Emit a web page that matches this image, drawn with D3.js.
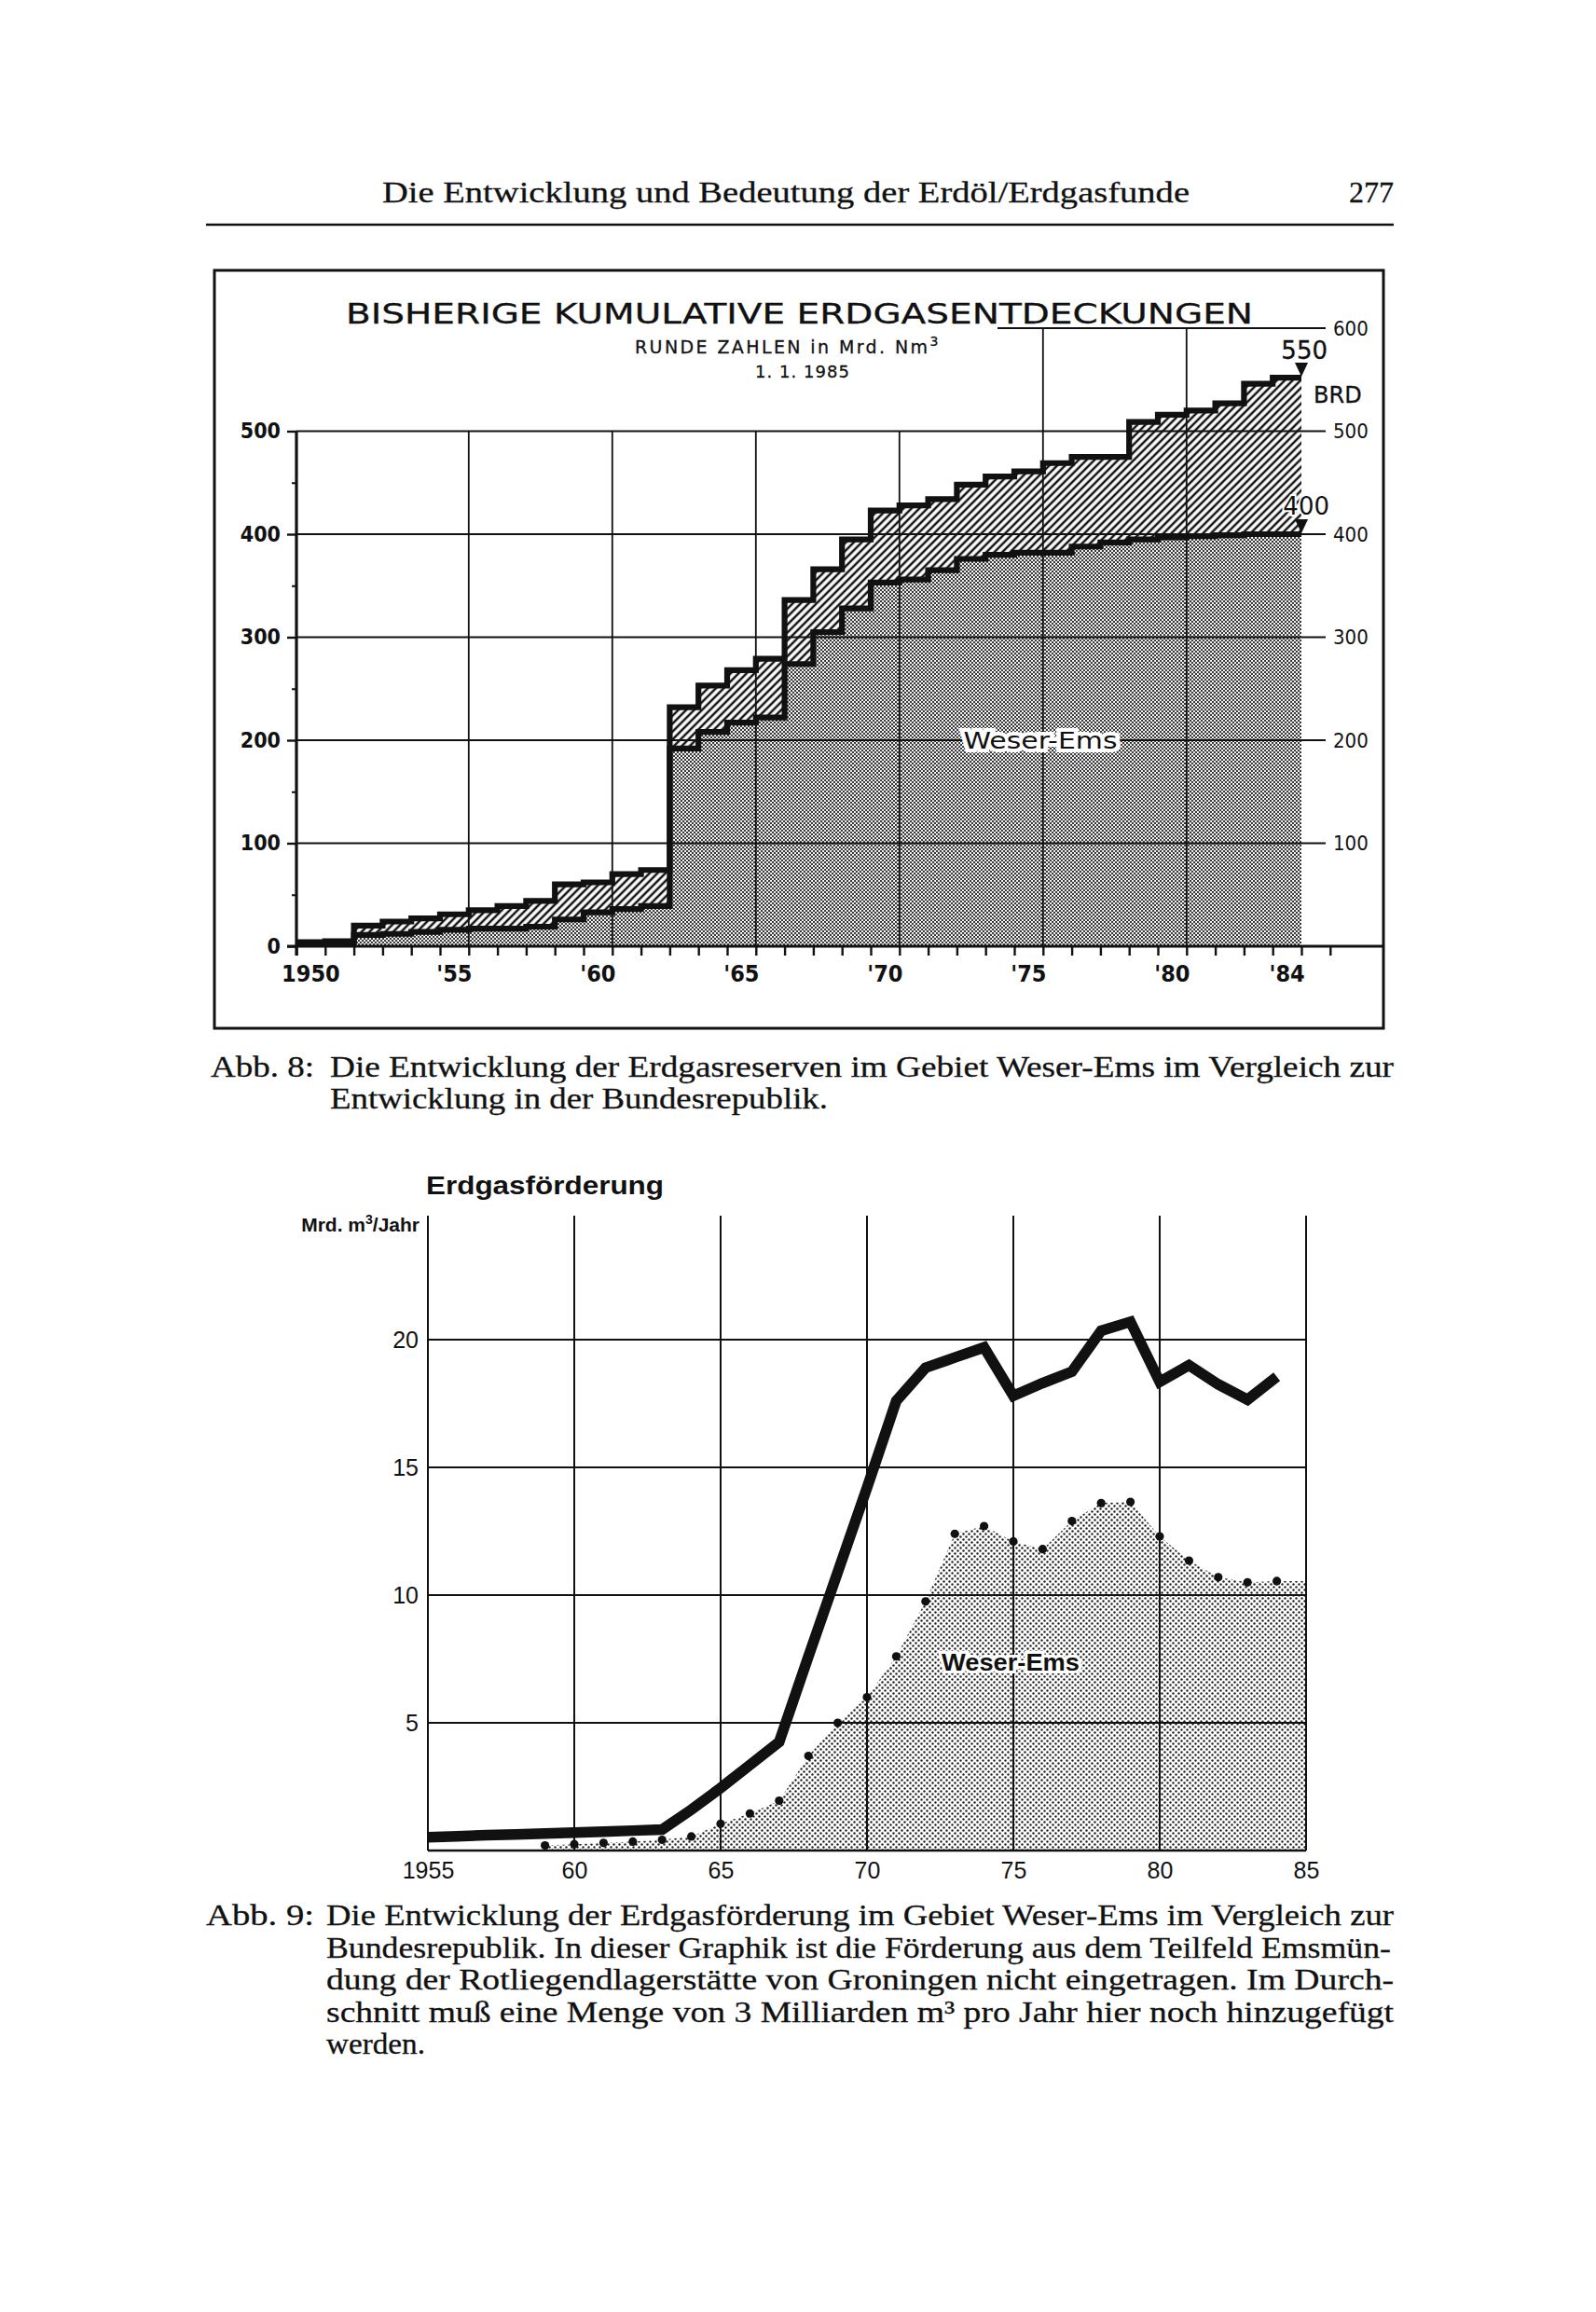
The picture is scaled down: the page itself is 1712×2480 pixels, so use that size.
<!DOCTYPE html>
<html>
<head>
<meta charset="utf-8">
<script src="https://cdn.jsdelivr.net/npm/d3@7"></script>
<style>
body { margin: 0; background: #fff; }
.print { stroke: #111; stroke-width: 0.3; }
</style>
</head>
<body>
<div id="page"></div>
<script>
// Abb. 8 - cumulative discoveries, Mrd. Nm3, one value per year 1950..1984
var years = d3.range(1950, 1985);
var brd = [4, 5, 20, 24, 27, 31, 35, 39, 44, 60, 62, 70, 74, 232, 253, 268, 279, 336, 366, 395,
           423, 428, 434, 448, 456, 461, 469, 475, 475, 509, 516, 520, 527, 546, 552];
var weserEms = [2, 3, 11, 12, 14, 16, 17, 17, 19, 26, 33, 36, 39, 192, 208, 217, 222, 274, 305, 328,
                353, 356, 365, 376, 380, 382, 382, 388, 392, 395, 397, 398, 399, 400, 400];
var topLabelYears = [1950, 1955, 1960, 1965, 1970, 1975, 1980, 1984];
var topLabels = ['1950', "'55", "'60", "'65", "'70", "'75", "'80", "'84"];

// Abb. 9 - production, Mrd. m3 per year
var prodYears = d3.range(1955, 1985);
var prodBRD = [0.52, 0.56, 0.6, 0.63, 0.67, 0.7, 0.74, 0.78, 0.82, 1.6, 2.45, 3.35, 4.25, 7.6, 10.9,
               14.2, 17.6, 18.9, 19.3, 19.7, 17.8, 18.3, 18.75, 20.35, 20.7, 18.35, 19.0, 18.25, 17.65, 18.55];
var weYears = d3.range(1959, 1985);
var prodWE = [0.2, 0.25, 0.3, 0.35, 0.42, 0.55, 1.05, 1.45, 1.95, 3.7, 5.0, 6.0, 7.6, 9.75, 12.4,
              12.7, 12.1, 11.8, 12.9, 13.6, 13.65, 12.3, 11.35, 10.7, 10.5, 10.55];
var botTicks = [1955, 1960, 1965, 1970, 1975, 1980, 1985];
var botLabels = ['1955', '60', '65', '70', '75', '80', '85'];

var SERIF = '"Liberation Serif", "DejaVu Serif", serif';
var SANS = '"Liberation Sans", Arial, sans-serif';
var NARROW = '"Liberation Sans Narrow", "DejaVu Sans Condensed", sans-serif';
var GEO = '"DejaVu Sans", sans-serif';
var ink = '#111';

var svg = d3.select('#page').append('svg')
  .attr('width', 1712).attr('height', 2480)
  .style('background', '#fff');

// patterns
var defs = svg.append('defs');
var pGray = defs.append('pattern').attr('id', 'grayDots')
  .attr('width', 4).attr('height', 4).attr('patternUnits', 'userSpaceOnUse');
pGray.append('rect').attr('width', 4).attr('height', 4).attr('fill', '#fff');
pGray.append('circle').attr('cx', 1).attr('cy', 1).attr('r', 1.2).attr('fill', '#333');
pGray.append('circle').attr('cx', 3).attr('cy', 3).attr('r', 1.2).attr('fill', '#333');

var pHatch = defs.append('pattern').attr('id', 'hatch')
  .attr('width', 6).attr('height', 6).attr('patternUnits', 'userSpaceOnUse')
  .attr('patternTransform', 'rotate(45)');
pHatch.append('rect').attr('width', 6).attr('height', 6).attr('fill', '#fff');
pHatch.append('line').attr('x1', 3).attr('y1', 0).attr('x2', 3).attr('y2', 6)
  .attr('stroke', ink).attr('stroke-width', 2.5);

var pFine = defs.append('pattern').attr('id', 'fineDots')
  .attr('width', 6).attr('height', 6).attr('patternUnits', 'userSpaceOnUse');
pFine.append('rect').attr('width', 6).attr('height', 6).attr('fill', '#fff');
pFine.append('circle').attr('cx', 1.5).attr('cy', 1.5).attr('r', 1.2).attr('fill', '#222');
pFine.append('circle').attr('cx', 4.5).attr('cy', 4.5).attr('r', 1.2).attr('fill', '#222');

// page header
svg.append('text').attr('class', 'print').attr('x', 410).attr('y', 217)
  .attr('font-family', SERIF).attr('font-size', 32).attr('fill', ink)
  .attr('textLength', 866).attr('lengthAdjust', 'spacingAndGlyphs')
  .text('Die Entwicklung und Bedeutung der Erdöl/Erdgasfunde');
svg.append('text').attr('class', 'print').attr('x', 1495).attr('y', 217).attr('text-anchor', 'end')
  .attr('font-family', SERIF).attr('font-size', 32).attr('fill', ink).text('277');
svg.append('line').attr('x1', 221).attr('x2', 1495).attr('y1', 241).attr('y2', 241)
  .attr('stroke', ink).attr('stroke-width', 2.5);

// ---------- Abb. 8 ----------
var x1 = d3.scaleLinear().domain([1950, 1985]).range([318, 1396]);
var y1 = d3.scaleLinear().domain([0, 600]).range([1015, 352]);

var chartA = svg.append('g');
chartA.append('rect').attr('x', 230).attr('y', 290).attr('width', 1254).attr('height', 813)
  .attr('fill', 'none').attr('stroke', ink).attr('stroke-width', 3);

var topData = years.map(function(y, i) { return { year: y, brd: brd[i], we: weserEms[i] }; });
var lastT = topData[topData.length - 1];
var steps = topData.concat([{ year: 1985, brd: lastT.brd, we: lastT.we }]);

var areaHatch = d3.area().curve(d3.curveStepAfter)
  .x(function(d) { return x1(d.year); })
  .y0(function(d) { return y1(d.we); })
  .y1(function(d) { return y1(d.brd); });
var areaWE = d3.area().curve(d3.curveStepAfter)
  .x(function(d) { return x1(d.year); })
  .y0(y1(0))
  .y1(function(d) { return y1(d.we); });

chartA.append('path').attr('d', areaWE(steps)).attr('fill', 'url(#grayDots)');
chartA.append('path').attr('d', areaHatch(steps)).attr('fill', 'url(#hatch)');

// grid
var gridT = chartA.append('g').attr('stroke', ink).attr('stroke-width', 1.8);
gridT.selectAll('line.h').data([100, 200, 300, 400, 500]).enter().append('line')
  .attr('x1', x1(1950)).attr('x2', 1422)
  .attr('y1', function(d) { return y1(d); }).attr('y2', function(d) { return y1(d); });
gridT.append('line').attr('x1', 1070).attr('x2', 1422).attr('y1', y1(600)).attr('y2', y1(600));
gridT.selectAll('line.v5').data([1956, 1961, 1966, 1971]).enter().append('line')
  .attr('x1', function(d) { return x1(d); }).attr('x2', function(d) { return x1(d); })
  .attr('y1', y1(0)).attr('y2', y1(500));
gridT.selectAll('line.v6').data([1976, 1981]).enter().append('line')
  .attr('x1', function(d) { return x1(d); }).attr('x2', function(d) { return x1(d); })
  .attr('y1', y1(0)).attr('y2', y1(600));

// step outlines
var lineBRD = d3.line().curve(d3.curveStepAfter)
  .x(function(d) { return x1(d.year); }).y(function(d) { return y1(d.brd); });
var lineWE = d3.line().curve(d3.curveStepAfter)
  .x(function(d) { return x1(d.year); }).y(function(d) { return y1(d.we); });
chartA.append('path').attr('d', lineWE(steps)).attr('fill', 'none')
  .attr('stroke', ink).attr('stroke-width', 6.2).attr('stroke-linejoin', 'miter');
chartA.append('path').attr('d', lineBRD(steps)).attr('fill', 'none')
  .attr('stroke', ink).attr('stroke-width', 6.2).attr('stroke-linejoin', 'miter');

// axes
chartA.append('line').attr('x1', 308).attr('x2', 1484).attr('y1', y1(0)).attr('y2', y1(0))
  .attr('stroke', ink).attr('stroke-width', 3);
chartA.append('line').attr('x1', x1(1950)).attr('x2', x1(1950)).attr('y1', y1(500)).attr('y2', y1(0) + 10)
  .attr('stroke', ink).attr('stroke-width', 3.2);

var xTicks = chartA.append('g').attr('transform', 'translate(0,' + y1(0) + ')')
  .call(d3.axisBottom(x1).tickValues(d3.range(1950, 1987)).tickSize(10).tickFormat(''));
xTicks.select('.domain').remove();
xTicks.selectAll('line').attr('stroke', ink).attr('stroke-width', 2.4);

chartA.selectAll('text.xl').data(topLabelYears).enter().append('text')
  .attr('x', function(d) { return x1(d + 0.5); }).attr('y', 1053)
  .attr('text-anchor', 'middle').attr('font-family', NARROW).attr('font-weight', 'bold')
  .attr('font-size', 25).attr('fill', ink)
  .text(function(d, i) { return topLabels[i]; });

var yAxisT = chartA.append('g').attr('transform', 'translate(' + x1(1950) + ',0)')
  .call(d3.axisLeft(y1).tickValues([0, 100, 200, 300, 400, 500]).tickSize(10).tickPadding(7));
yAxisT.select('.domain').remove();
yAxisT.selectAll('line').attr('stroke', ink).attr('stroke-width', 2.4);
yAxisT.selectAll('text').attr('font-family', NARROW).attr('font-weight', 'bold')
  .attr('font-size', 23).attr('fill', ink);
var yMinor = chartA.append('g').attr('transform', 'translate(' + x1(1950) + ',0)')
  .call(d3.axisLeft(y1).tickValues([50, 150, 250, 350, 450]).tickSize(5).tickFormat(''));
yMinor.select('.domain').remove();
yMinor.selectAll('line').attr('stroke', ink).attr('stroke-width', 2);

chartA.selectAll('text.yr').data([100, 200, 300, 400, 500, 600]).enter().append('text')
  .attr('x', 1430).attr('y', function(d) { return y1(d); }).attr('dy', '0.35em')
  .attr('font-family', NARROW).attr('font-size', 22).attr('fill', ink)
  .text(function(d) { return d; });

// titles
chartA.append('text').attr('class', 'print').attr('x', 371).attr('y', 347)
  .attr('font-family', GEO).attr('font-size', 30).attr('fill', ink)
  .attr('textLength', 973).attr('lengthAdjust', 'spacingAndGlyphs')
  .text('BISHERIGE  KUMULATIVE  ERDGASENTDECKUNGEN');
var sub = chartA.append('text').attr('class', 'print').attr('x', 681).attr('y', 379)
  .attr('font-family', GEO).attr('font-size', 19).attr('letter-spacing', 2.4).attr('fill', ink);
sub.append('tspan').text('RUNDE ZAHLEN in Mrd. Nm');
sub.append('tspan').attr('dy', -8).attr('font-size', 14).text('3');
chartA.append('text').attr('class', 'print').attr('x', 810).attr('y', 405)
  .attr('font-family', GEO).attr('font-size', 18).attr('fill', ink)
  .attr('textLength', 101).text('1. 1. 1985');

// end markers
function tri(v) {
  var xe = x1(1985), ye = y1(v);
  return 'M' + (xe - 7) + ',' + (ye - 16) + 'L' + (xe + 7) + ',' + (ye - 16) + 'L' + xe + ',' + (ye - 1) + 'Z';
}
chartA.append('path').attr('d', tri(lastT.brd)).attr('fill', ink);
chartA.append('path').attr('d', tri(lastT.we)).attr('fill', ink);
chartA.append('text').attr('class', 'print').attr('x', x1(1985) + 28).attr('y', y1(lastT.brd) - 20).attr('text-anchor', 'end')
  .attr('font-family', GEO).attr('font-size', 26).attr('fill', ink).text('550');
chartA.append('text').attr('class', 'print').attr('x', 1409).attr('y', 432)
  .attr('font-family', GEO).attr('font-size', 24).attr('fill', ink).text('BRD');
chartA.append('text').attr('x', x1(1985) + 30).attr('y', y1(lastT.we) - 21).attr('text-anchor', 'end')
  .attr('font-family', GEO).attr('font-size', 26).attr('fill', ink)
  .attr('stroke', '#fff').attr('stroke-width', 4).attr('paint-order', 'stroke').text('400');
chartA.append('text').attr('x', 1116).attr('y', 803).attr('text-anchor', 'middle')
  .attr('font-family', GEO).attr('font-size', 25).attr('fill', ink)
  .attr('textLength', 165).attr('lengthAdjust', 'spacingAndGlyphs')
  .attr('stroke', '#fff').attr('stroke-width', 8).attr('paint-order', 'stroke')
  .text('Weser-Ems');

// caption 8
svg.append('text').attr('class', 'print').attr('x', 226).attr('y', 1155)
  .attr('font-family', SERIF).attr('font-size', 32).attr('fill', ink)
  .attr('textLength', 111).attr('lengthAdjust', 'spacingAndGlyphs').text('Abb. 8:');
svg.append('text').attr('class', 'print').attr('x', 354).attr('y', 1155)
  .attr('font-family', SERIF).attr('font-size', 32).attr('fill', ink)
  .attr('textLength', 1141).attr('lengthAdjust', 'spacingAndGlyphs')
  .text('Die Entwicklung der Erdgasreserven im Gebiet Weser-Ems im Vergleich zur');
svg.append('text').attr('class', 'print').attr('x', 354).attr('y', 1189)
  .attr('font-family', SERIF).attr('font-size', 32).attr('fill', ink)
  .attr('textLength', 534).attr('lengthAdjust', 'spacingAndGlyphs')
  .text('Entwicklung in der Bundesrepublik.');

// ---------- Abb. 9 ----------
var x2 = d3.scaleLinear().domain([1955, 1985]).range([459, 1401]);
var y2 = d3.scaleLinear().domain([0, 25]).range([1985, 1300]);
var chartB = svg.append('g');

var weData = weYears.map(function(y, i) { return { year: y, v: prodWE[i] }; });
var weFill = weData.concat([{ year: 1985, v: weData[weData.length - 1].v }]);
chartB.append('path')
  .attr('d', d3.area().x(function(d) { return x2(d.year); }).y0(y2(0))
    .y1(function(d) { return y2(d.v); })(weFill))
  .attr('fill', 'url(#fineDots)');

var gridB = chartB.append('g').attr('stroke', ink).attr('stroke-width', 2);
gridB.selectAll('line.h').data([5, 10, 15, 20]).enter().append('line')
  .attr('x1', x2(1955)).attr('x2', x2(1985))
  .attr('y1', function(d) { return y2(d); }).attr('y2', function(d) { return y2(d); });
gridB.selectAll('line.v').data(botTicks).enter().append('line')
  .attr('x1', function(d) { return x2(d); }).attr('x2', function(d) { return x2(d); })
  .attr('y1', y2(0)).attr('y2', 1304);
chartB.append('line').attr('x1', x2(1955)).attr('x2', x2(1985)).attr('y1', y2(0)).attr('y2', y2(0))
  .attr('stroke', ink).attr('stroke-width', 2.6);

var brdData = prodYears.map(function(y, i) { return { year: y, v: prodBRD[i] }; });
chartB.append('path')
  .attr('d', d3.line().x(function(d) { return x2(d.year); }).y(function(d) { return y2(d.v); })(brdData))
  .attr('fill', 'none').attr('stroke', ink).attr('stroke-width', 11.5)
  .attr('stroke-linejoin', 'miter').attr('stroke-miterlimit', 3);

chartB.selectAll('circle.we').data(weData).enter().append('circle')
  .attr('cx', function(d) { return x2(d.year); }).attr('cy', function(d) { return y2(d.v); })
  .attr('r', 4.6).attr('fill', ink);

chartB.append('text').attr('x', 1084).attr('y', 1792).attr('text-anchor', 'middle')
  .attr('font-family', SANS).attr('font-weight', 'bold').attr('font-size', 25).attr('fill', ink)
  .attr('textLength', 148).attr('lengthAdjust', 'spacingAndGlyphs')
  .attr('stroke', '#fff').attr('stroke-width', 6).attr('paint-order', 'stroke')
  .text('Weser-Ems');

var xAxisB = chartB.append('g').attr('transform', 'translate(0,' + y2(0) + ')')
  .call(d3.axisBottom(x2).tickValues(botTicks).tickSize(0).tickPadding(12)
    .tickFormat(function(d, i) { return botLabels[i]; }));
xAxisB.select('.domain').remove();
xAxisB.selectAll('text').attr('font-family', SANS).attr('font-size', 25).attr('fill', ink);

var yAxisB = chartB.append('g').attr('transform', 'translate(' + x2(1955) + ',0)')
  .call(d3.axisLeft(y2).tickValues([5, 10, 15, 20]).tickSize(0).tickPadding(10));
yAxisB.select('.domain').remove();
yAxisB.selectAll('text').attr('font-family', SANS).attr('font-size', 25).attr('fill', ink);

chartB.append('text').attr('x', 457).attr('y', 1281)
  .attr('font-family', SANS).attr('font-weight', 'bold').attr('font-size', 27).attr('fill', ink)
  .attr('textLength', 255).attr('lengthAdjust', 'spacingAndGlyphs').text('Erdgasförderung');
var unit = chartB.append('text').attr('x', 450).attr('y', 1321).attr('text-anchor', 'end')
  .attr('font-family', SANS).attr('font-weight', 'bold').attr('font-size', 21).attr('fill', ink);
unit.append('tspan').text('Mrd. m');
unit.append('tspan').attr('dy', -8).attr('font-size', 14).text('3');
unit.append('tspan').attr('dy', 8).text('/Jahr');

// caption 9
var cap9 = [
  'Die Entwicklung der Erdgasförderung im Gebiet Weser-Ems im Vergleich zur',
  'Bundesrepublik. In dieser Graphik ist die Förderung aus dem Teilfeld Emsmün-',
  'dung der Rotliegendlagerstätte von Groningen nicht eingetragen. Im Durch-',
  'schnitt muß eine Menge von 3 Milliarden m³ pro Jahr hier noch hinzugefügt',
  'werden.'
];
var cap9Len = [1145, 1142, 1145, 1145, 106];
svg.append('text').attr('class', 'print').attr('x', 221).attr('y', 2065)
  .attr('font-family', SERIF).attr('font-size', 32).attr('fill', ink)
  .attr('textLength', 116).attr('lengthAdjust', 'spacingAndGlyphs').text('Abb. 9:');
svg.selectAll('text.cap9').data(cap9).enter().append('text')
  .attr('class', 'print')
  .attr('x', 350).attr('y', function(d, i) { return 2065 + i * 34.5; })
  .attr('font-family', SERIF).attr('font-size', 32).attr('fill', ink)
  .attr('textLength', function(d, i) { return cap9Len[i]; }).attr('lengthAdjust', 'spacingAndGlyphs')
  .text(function(d) { return d; });
</script>
</body>
</html>
